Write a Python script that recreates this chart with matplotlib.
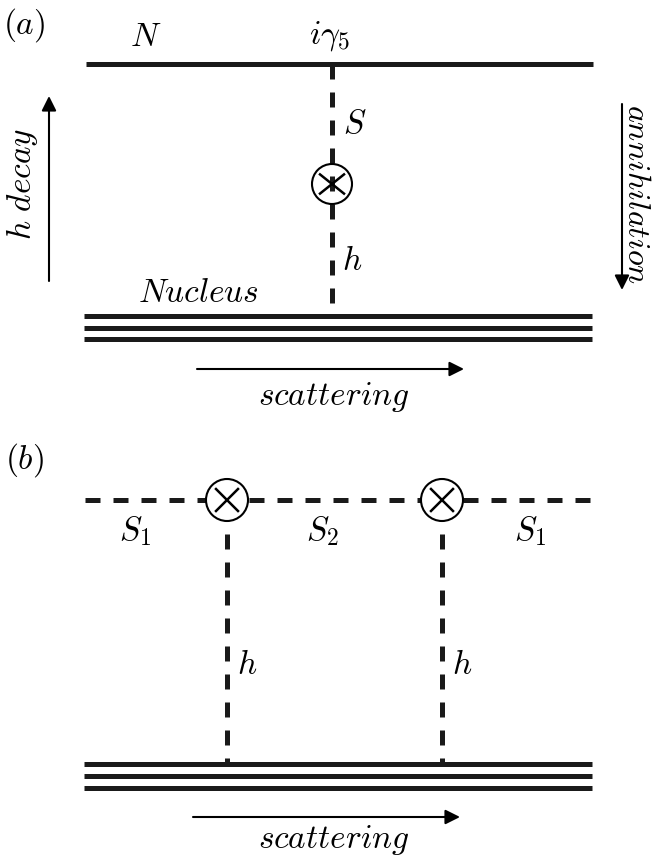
import matplotlib
matplotlib.use('Agg')
import matplotlib.pyplot as plt
from matplotlib.patches import Circle

plt.rcParams['mathtext.fontset'] = 'cm'

# diagram geometry (pixel coords, y down)
x_left, x_right = 84, 592
top_line_a = 64
nucleus_a = [316, 328, 339]
nucleus_b = [764, 776, 788]

vert_a_x = 332
vertex_a = (332, 184)

line_b_y = 500
line_b_segments = [(85, 206), (249, 421), (463, 591)]
vertex_b_x = [227, 442]
vert_b_top = 534

labels_a = [(r'$(a)$', 24, 25), (r'$N$', 146, 36), (r'$i\gamma_5$', 330, 36),
            (r'$Nucleus$', 198, 292), (r'$scattering$', 334, 397)]
labels_b = [(r'$(b)$', 24, 460), (r'$S_1$', 135, 531), (r'$S_2$', 322, 531),
            (r'$S_1$', 530, 531), (r'$scattering$', 334, 840)]
side_labels = [(r'$S$', 355, 123), (r'$h$', 352, 260), (r'$h$', 247, 664), (r'$h$', 462, 664)]

fig = plt.figure(figsize=(6.53, 8.63), dpi=100)
ax = fig.add_axes([0, 0, 1, 1])
ax.set_xlim(0, 653)
ax.set_ylim(863, 0)
ax.axis('off')

lw = 3.6
dash = dict(ls=(0, (3.0, 2.6)), lw=lw, color='#1a1a1a', solid_capstyle='butt', dash_capstyle='butt')
solid = dict(lw=lw, color='#1a1a1a', solid_capstyle='butt')
fs = 24

# ---- panel (a)
ax.plot([86, 593], [top_line_a, top_line_a], **solid)
ax.plot([vert_a_x, vert_a_x], [top_line_a, nucleus_a[0]], **dash)
for y in nucleus_a:
    ax.plot([x_left, x_right], [y, y], **solid)
c = Circle(vertex_a, 20, fill=False, lw=1.5, color='black', zorder=4)
ax.add_patch(c)
d = 12
ax.plot([vertex_a[0] - d, vertex_a[0] + d], [vertex_a[1] - d * 0.8, vertex_a[1] + d * 0.8], color='black', lw=1.8, zorder=5)
ax.plot([vertex_a[0] - d, vertex_a[0] + d], [vertex_a[1] + d * 0.8, vertex_a[1] - d * 0.8], color='black', lw=1.8, zorder=5)

arr = dict(arrowstyle='-|>', lw=1.5, color='black', mutation_scale=22, shrinkA=0, shrinkB=0)
ax.annotate('', xy=(49, 96), xytext=(49, 281), arrowprops=arr)
ax.annotate('', xy=(622, 290), xytext=(622, 104), arrowprops=arr)
ax.annotate('', xy=(464, 369), xytext=(197, 369), arrowprops=arr)
ax.text(22, 184, r'$h\ decay$', fontsize=fs, rotation=90, ha='center', va='center')
ax.text(637, 194, r'$annihilation$', fontsize=fs - 1, rotation=270, ha='center', va='center')

# ---- panel (b)
for x0, x1 in line_b_segments:
    ax.plot([x0, x1], [line_b_y, line_b_y], **dash)
for x in vertex_b_x:
    ax.plot([x, x], [vert_b_top, nucleus_b[0]], **dash)
    ax.add_patch(Circle((x, line_b_y), 21, facecolor='white', edgecolor='black', lw=1.5, zorder=4))
    ax.plot([x - 11, x + 11], [line_b_y - 11, line_b_y + 11], color='black', lw=1.8, zorder=5)
    ax.plot([x - 11, x + 11], [line_b_y + 11, line_b_y - 11], color='black', lw=1.8, zorder=5)
for y in nucleus_b:
    ax.plot([x_left, x_right], [y, y], **solid)
ax.annotate('', xy=(460, 817), xytext=(193, 817), arrowprops=arr)

for s, x, y in labels_a + labels_b + side_labels:
    ax.text(x, y, s, fontsize=fs, ha='center', va='center')

fig.savefig('out.png', dpi=100)
